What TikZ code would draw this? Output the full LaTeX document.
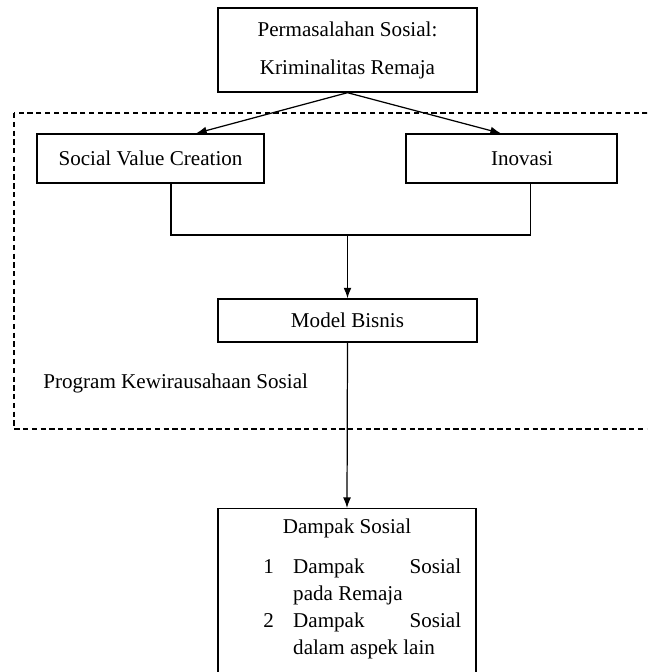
\documentclass[tikz,border=0pt]{standalone}
\usepackage{fontspec}
\setmainfont{Liberation Serif}
\usetikzlibrary{arrows,arrows.meta,shapes,positioning,calc}

\begin{document}
\begin{tikzpicture}[
    x=0.02cm, y=-0.02cm,
    every node/.style={font=\fontsize{12}{15.4}\selectfont},
    box/.style={draw, rectangle, line width=0.8pt, inner sep=0pt},
    link/.style={line width=0.7pt},
    tip/.style={-{Latex[length=6pt,width=4.5pt]}}
]
    \useasboundingbox (0,0) rectangle (647,672);
    \clip (0,0) rectangle (647,672);

    % frame of the programme
    \draw[dash pattern=on 3pt off 2pt, line width=0.6pt] (14,113) rectangle (700,429);
    \node[anchor=west, inner sep=0pt] (prog) at (43,383) {Program Kewirausahaan Sosial};

    \node[box, minimum width=5.18cm, minimum height=1.68cm, align=center,
        font=\fontsize{12}{21.6}\selectfont] (problem) at (347.5,50)
        {Permasalahan Sosial:\\Kriminalitas Remaja};
    \node[box, minimum width=4.54cm, minimum height=0.98cm] (svc) at (150.5,158.5) {Social Value Creation};
    \node[box, minimum width=4.22cm, minimum height=0.98cm] (inov) at (511.5,158.5) {\hspace*{12pt}Inovasi};
    \node[box, minimum width=5.18cm, minimum height=0.86cm] (model) at (347.5,320.5) {Model Bisnis};

    % impact box, runs off the page
    \node[box, anchor=north, minimum width=5.16cm, minimum height=3.64cm] (impact) at (347,508) {};
    \node[anchor=base] (impacttitle) at (347,533) {Dampak Sosial};
    \node[anchor=base west, inner sep=0pt] (impactlist) at (263,573) {%
        \begin{tabular}[t]{@{}l@{\hspace{11pt}}l@{}}
        1 & \makebox[95.6pt]{Dampak\hfill Sosial}\\
          & pada Remaja\\
        2 & \makebox[95.6pt]{Dampak\hfill Sosial}\\
          & dalam aspek lain
        \end{tabular}};

    % connectors
    \coordinate (join) at (347.5,235);
    \draw[link, tip] (problem.south) -- ($(svc.north west)!0.7!(svc.north east)$);
    \draw[link, tip] (problem.south) -- ($(inov.north west)!0.45!(inov.north east)$);
    \draw[link] ($(svc.south west)!0.59!(svc.south east)$) |- (join)
        -| ($(inov.south west)!0.59!(inov.south east)$);
    \draw[link, tip] (join) -- (model.north);
    \draw[link, tip] (model.south) -- (impact.north);
\end{tikzpicture}
\end{document}
